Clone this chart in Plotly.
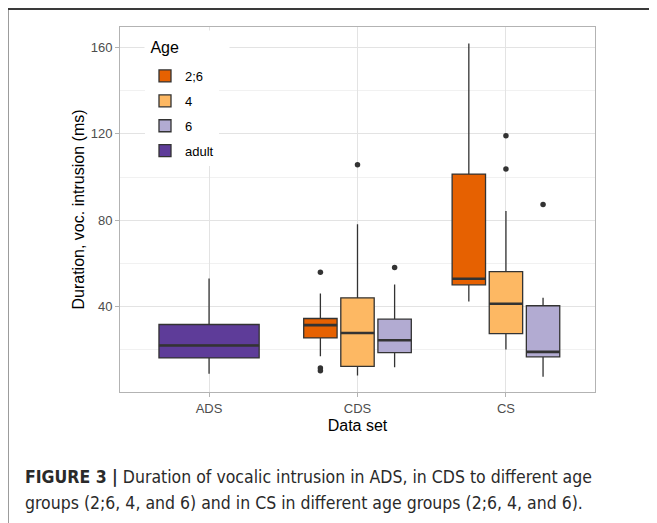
import plotly.graph_objects as go

# ---------------- data ----------------
datasets = ["ADS", "CDS", "CS"]
ages = ["2;6", "4", "6", "adult"]
age_colors = ["#E66101", "#FDB863", "#B2ABD2", "#5E3C99"]

# one entry per box: (dataset, age)
box_dataset = ["ADS", "CDS", "CDS", "CDS", "CS", "CS", "CS"]
box_age     = ["adult", "2;6", "4", "6", "2;6", "4", "6"]
q1          = [16.1, 25.4, 12.2, 18.6, 50.0, 27.4, 16.6]
median      = [21.9, 31.3, 27.7, 24.3, 52.8, 41.2, 18.9]
q3          = [31.6, 34.4, 44.0, 34.1, 101.4, 56.1, 40.3]
lower_w     = [8.8, 16.9, 7.9, 11.8, 42.3, 20.0, 7.4]
upper_w     = [53.0, 46.0, 78.1, 50.2, 161.9, 84.3, 44.0]
outliers    = [[], [55.8, 11.4, 10.2], [105.7], [58.0], [], [103.7, 119.2], [87.3]]

y_ticks = [40, 80, 120, 160]

# ---------------- geometry helpers ----------------
# page body has an 8px margin, so figure pixel = page pixel - 8
OFF = 8
W, H = 657, 523
PL, PR, PT, PB = 120, 595, 27, 392          # plot panel in page pixels
L = PL - OFF
T = PT - OFF
R = W - (PR - OFF)
B = H - (PB - OFF)
pw, ph = PR - PL, PB - PT


def px_x(px):
    return (px - PL) / pw


def px_y(py):
    return (PB - py) / ph


DODGE_TOTAL = 0.75
PAD = 0.9
line_col = "#333333"

fig = go.Figure()

# compute dodge positions from the data structure
positions = []
widths = []
for i, (ds, ag) in enumerate(zip(box_dataset, box_age)):
    members = [j for j, d in enumerate(box_dataset) if d == ds]
    n = len(members)
    k = members.index(i)
    slot = DODGE_TOTAL / n
    centre = datasets.index(ds) + 1 - DODGE_TOTAL / 2 + slot * (k + 0.5)
    positions.append(centre)
    widths.append(slot * PAD)

shown = set()
for age, col in zip(ages, age_colors):
    for i in range(len(box_age)):
        if box_age[i] != age:
            continue
        fig.add_trace(go.Box(
            x=[positions[i]],
            q1=[q1[i]], median=[median[i]], q3=[q3[i]],
            lowerfence=[lower_w[i]], upperfence=[upper_w[i]],
            width=widths[i],
            fillcolor=col,
            line=dict(color=line_col, width=1.3),
            whiskerwidth=0,
            name=age,
            legendgroup=age,
            showlegend=age not in shown,
            boxpoints=False,
            hoverinfo="skip",
        ))
        shown.add(age)

# thick median lines (ggplot fatten)
for i in range(len(box_age)):
    hw = widths[i] / 2
    fig.add_trace(go.Scatter(
        x=[positions[i] - hw, positions[i] + hw],
        y=[median[i], median[i]],
        mode="lines",
        line=dict(color=line_col, width=2.6),
        showlegend=False, hoverinfo="skip",
    ))

# outliers
ox, oy = [], []
for i, outs in enumerate(outliers):
    for v in outs:
        ox.append(positions[i])
        oy.append(v)
fig.add_trace(go.Scatter(
    x=ox, y=oy, mode="markers",
    marker=dict(color=line_col, size=5.5),
    showlegend=False, hoverinfo="skip",
))

font_family = "Liberation Sans, Arial, Helvetica, sans-serif"

fig.update_layout(
    width=W, height=H,
    margin=dict(l=L, r=R, t=T, b=B),
    paper_bgcolor="white",
    plot_bgcolor="white",
    font=dict(family=font_family, color="#4D4D4D"),
    boxmode="overlay",
    showlegend=True,
    legend=dict(
        x=px_x(145), y=px_y(61), xanchor="left", yanchor="top",
        bgcolor="rgba(255,255,255,1)",
        font=dict(size=13, color="#000000"),
        tracegroupgap=5,
        traceorder="grouped",
    ),
    xaxis=dict(
        range=[0.4, 3.6],
        tickmode="array",
        tickvals=[1, 2, 3],
        ticktext=datasets,
        showgrid=True, gridcolor="#E3E3E3", gridwidth=1,
        zeroline=False,
        showline=True, mirror=True, linecolor="#B3B3B3", linewidth=1,
        ticks="outside", ticklen=4, tickcolor="#B3B3B3",
        tickfont=dict(size=13, color="#4D4D4D"),
        title=dict(text="Data set", font=dict(size=16, color="#000000"), standoff=5),
    ),
    yaxis=dict(
        range=[0.3, 169.6],
        tickmode="array",
        tickvals=y_ticks,
        showgrid=True, gridcolor="#E3E3E3", gridwidth=1,
        minor=dict(tickvals=[20, 60, 100, 140], showgrid=True,
                   gridcolor="#F1F1F1", gridwidth=1),
        zeroline=False,
        showline=True, mirror=True, linecolor="#B3B3B3", linewidth=1,
        ticks="outside", ticklen=4, tickcolor="#B3B3B3",
        tickfont=dict(size=13, color="#4D4D4D"),
        title=dict(text="Duration, voc. intrusion (ms)",
                   font=dict(size=16, color="#000000"), standoff=2),
    ),
)

# legend title
fig.add_annotation(
    xref="paper", yref="paper", x=px_x(144), y=px_y(47),
    xanchor="left", yanchor="middle", showarrow=False,
    text="&nbsp;Age", align="left", width=82, height=30,
    bgcolor="white",
    font=dict(family=font_family, size=16, color="#000000"),
)

# outer frame of the figure panel
fig.add_shape(type="rect", xref="paper", yref="paper",
              x0=px_x(7.5), x1=px_x(720), y0=px_y(600), y1=px_y(9),
              line=dict(color="#3A3A3A", width=2), layer="above")

cap_font = "Liberation Sans Narrow, Arial Narrow, DejaVu Sans Condensed, sans-serif"
cap_size = 17.5
fig.add_annotation(
    xref="paper", yref="paper", x=px_x(23), y=px_y(477),
    xanchor="left", yanchor="middle", showarrow=False,
    text="<b>FIGURE 3 |</b> Duration of vocalic intrusion in ADS, in CDS to different age",
    font=dict(family=cap_font, size=cap_size, color="#2A2A2A"),
)
fig.add_annotation(
    xref="paper", yref="paper", x=px_x(23), y=px_y(503),
    xanchor="left", yanchor="middle", showarrow=False,
    text="groups (2;6, 4, and 6) and in CS in different age groups (2;6, 4, and 6).",
    font=dict(family=cap_font, size=cap_size, color="#2A2A2A"),
)

fig.write_html("out.html")
